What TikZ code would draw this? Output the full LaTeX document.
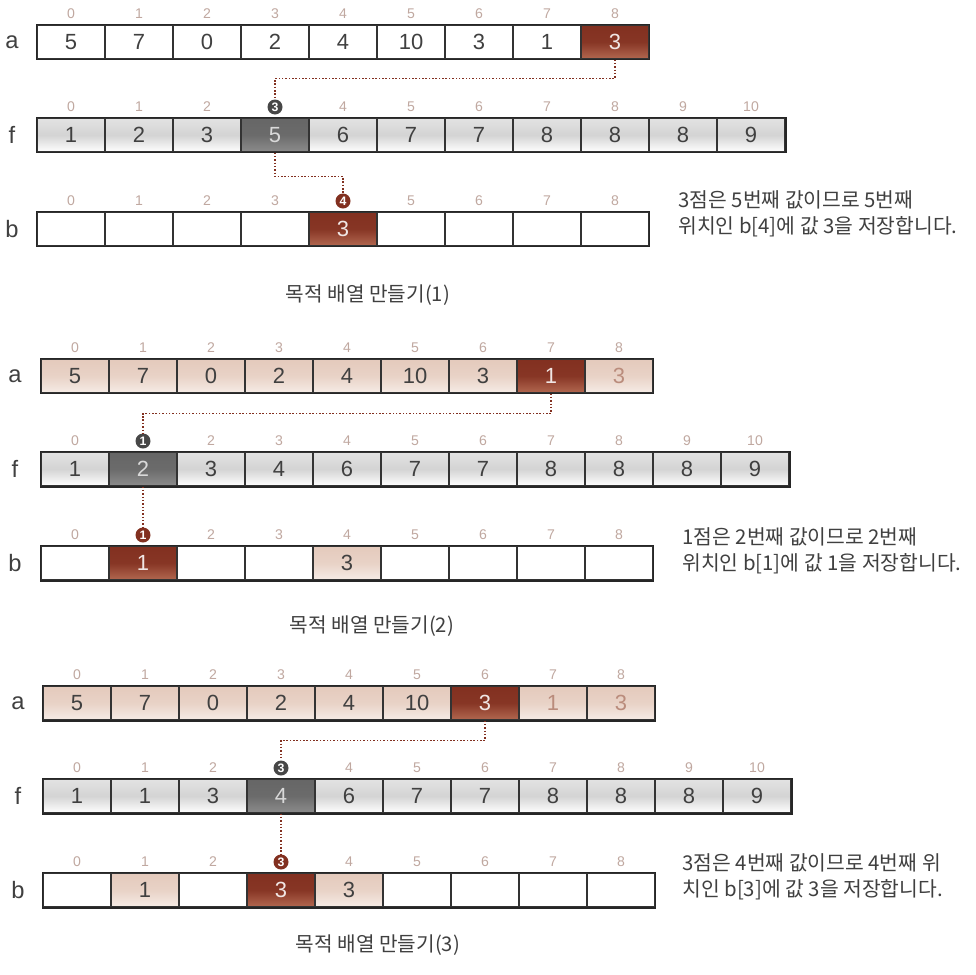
\documentclass[tikz,border=0pt]{standalone}
\usepackage{fontspec}
\usepackage{tikz}
\setmainfont{Liberation Sans}
\newfontfamily\krfont{Noto Sans CJK KR}

\definecolor{brickred}{RGB}{130,48,32}
\definecolor{bricklight}{RGB}{178,104,80}
\definecolor{paletop}{RGB}{246,236,230}
\definecolor{palemid}{RGB}{228,202,188}
\definecolor{idxgray}{RGB}{192,168,160}
\definecolor{fadedtxt}{RGB}{186,140,124}
\definecolor{inktxt}{RGB}{64,64,64}

\tikzset{
  cell/.style={draw=black!80, line width=0.6pt, minimum width=1.36cm, minimum height=0.68cm,
    inner sep=0pt, text=inktxt, font=\fontsize{12.5}{14}\selectfont},
  plain/.style={fill=white},
  fcell/.style={top color=black!11, bottom color=white, middle color=black!17},
  acell/.style={top color=palemid, bottom color=paletop, middle color=palemid!75!paletop},
  afade/.style={acell, text=fadedtxt},
  hired/.style={top color=brickred, bottom color=bricklight, middle color=brickred!90!bricklight, text=white!88!brickred},
  higray/.style={top color=black!60, bottom color=black!45, middle color=black!58, text=white!85!black},
  idx/.style={inner sep=0pt, text=idxgray, font=\fontsize{8}{9}\selectfont},
  rowlabel/.style={inner sep=0pt, text=inktxt, font=\fontsize{13.5}{15}\selectfont},
  fdot/.style={circle, fill=black!72, text=white, inner sep=0pt, minimum size=0.3cm, font=\bfseries\fontsize{7}{7}\selectfont},
  bdot/.style={fdot, fill=brickred},
  frame/.style={draw=black!85, line width=1.1pt},
  link/.style={draw=brickred, densely dotted, line width=0.9pt},
  note/.style={anchor=west, align=left, inner sep=0pt, text=inktxt, font=\krfont\fontsize{11.6}{15}\selectfont},
  caption/.style={inner sep=0pt, text=inktxt, font=\krfont\fontsize{11.5}{13}\selectfont}
}

% one row of cells: name prefix, left x, centre y, list of style/value
\newcommand{\cellrow}[4]{%
  \foreach \s/\v [count=\i from 0] in {#4}{%
    \node[cell,\s] (#1\i) at ({#2+34+68*\i},#3) {\v};
    \node[idx] (#1i\i) at ({#2+34+68*\i},{#3-28}) {\i};
  }%
}

\begin{document}
\begin{tikzpicture}[x=0.02cm,y=-0.02cm]
\path[fill=white,use as bounding box] (0,0) rectangle (976,974);

% panel 1
\node[rowlabel] (p1la) at (12,42) {a};
\node[rowlabel] (p1lf) at (12,135) {f};
\node[rowlabel] (p1lb) at (12,229) {b};
\cellrow{p1a}{37}{42}{plain/5,plain/7,plain/0,plain/2,plain/4,plain/10,plain/3,plain/1,hired/3}
\cellrow{p1f}{37}{135}{fcell/1,fcell/2,fcell/3,higray/5,fcell/6,fcell/7,fcell/7,fcell/8,fcell/8,fcell/8,fcell/9}
\cellrow{p1b}{37}{229}{plain/{},plain/{},plain/{},plain/{},hired/3,plain/{},plain/{},plain/{},plain/{}}
\draw[frame] (p1a0.north west) rectangle (p1a8.south east);
\draw[frame] (p1f0.north west) rectangle (p1f10.south east);
\draw[frame] (p1b0.north west) rectangle (p1b8.south east);
\node[fdot] (p1fd) at (p1fi3) {3};
\node[bdot] (p1bd) at (p1bi4) {4};
\draw[link] (p1a8.south) -- ++(0,19) -| (p1fd.north);
\draw[link] (p1f3.south) -- ++(0,24) -| (p1bd.north);
\node[note] (p1note) at (678,214) {3점은 5번째 값이므로 5번째\\위치인 b[4]에 값 3을 저장합니다.};
\node[caption] (p1cap) at (368,295) {목적 배열 만들기(1)};

% panel 2
\node[rowlabel] (p2la) at (15,376) {a};
\node[rowlabel] (p2lf) at (15,469) {f};
\node[rowlabel] (p2lb) at (15,563) {b};
\cellrow{p2a}{41}{376}{acell/5,acell/7,acell/0,acell/2,acell/4,acell/10,acell/3,hired/1,afade/3}
\cellrow{p2f}{41}{469}{fcell/1,higray/2,fcell/3,fcell/4,fcell/6,fcell/7,fcell/7,fcell/8,fcell/8,fcell/8,fcell/9}
\cellrow{p2b}{41}{563}{plain/{},hired/1,plain/{},plain/{},acell/3,plain/{},plain/{},plain/{},plain/{}}
\draw[frame] (p2a0.north west) rectangle (p2a8.south east);
\draw[frame] (p2f0.north west) rectangle (p2f10.south east);
\draw[frame] (p2b0.north west) rectangle (p2b8.south east);
\node[fdot] (p2fd) at (p2fi1) {1};
\node[bdot] (p2bd) at (p2bi1) {1};
\draw[link] (p2a7.south) -- ++(0,20) -| (p2fd.north);
\draw[link] (p2f1.south) -- (p2bd.north);
\node[note] (p2note) at (682,551) {1점은 2번째 값이므로 2번째\\위치인 b[1]에 값 1을 저장합니다.};
\node[caption] (p2cap) at (372,626) {목적 배열 만들기(2)};

% panel 3
\node[rowlabel] (p3la) at (18,703) {a};
\node[rowlabel] (p3lf) at (18,796) {f};
\node[rowlabel] (p3lb) at (18,890) {b};
\cellrow{p3a}{43}{703}{acell/5,acell/7,acell/0,acell/2,acell/4,acell/10,hired/3,afade/1,afade/3}
\cellrow{p3f}{43}{796}{fcell/1,fcell/1,fcell/3,higray/4,fcell/6,fcell/7,fcell/7,fcell/8,fcell/8,fcell/8,fcell/9}
\cellrow{p3b}{43}{890}{plain/{},acell/1,plain/{},hired/3,acell/3,plain/{},plain/{},plain/{},plain/{}}
\draw[frame] (p3a0.north west) rectangle (p3a8.south east);
\draw[frame] (p3f0.north west) rectangle (p3f10.south east);
\draw[frame] (p3b0.north west) rectangle (p3b8.south east);
\node[fdot] (p3fd) at (p3fi3) {3};
\node[bdot] (p3bd) at (p3bi3) {3};
\draw[link] (p3a6.south) -- ++(0,20) -| (p3fd.north);
\draw[link] (p3f3.south) -- (p3bd.north);
\node[note] (p3note) at (682,877) {3점은 4번째 값이므로 4번째 위\\치인 b[3]에 값 3을 저장합니다.};
\node[caption] (p3cap) at (378,945) {목적 배열 만들기(3)};
\end{tikzpicture}
\end{document}
